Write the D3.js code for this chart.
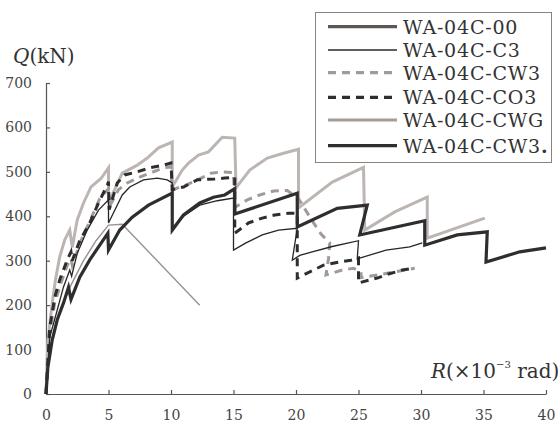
<!DOCTYPE html>
<html><head><meta charset="utf-8">
<script src="https://cdn.jsdelivr.net/npm/d3@7"></script>
<style>
html,body{margin:0;padding:0;background:#fff;}
svg{display:block;}
text{font-family:"DejaVu Serif","Liberation Serif",serif;}
</style></head>
<body>
<svg id="c" width="558" height="425"></svg>
<script>
// ---- data: [R (x10^-3 rad), Q (kN)] ----
const xTicks = [0,5,10,15,20,25,30,35,40];
const yTicks = [0,100,200,300,400,500,600,700];
const seriesNames = ["WA-04C-00","WA-04C-C3","WA-04C-CW3","WA-04C-CO3","WA-04C-CWG","WA-04C-CW3"];

const s00 = [[0,0],[0.3,100],[1,180],[2,245],[3,300],[4,345],[5,380],[6.1,382],[12.3,200]];

const sC3 = [[0,0],[0.3,128],[0.9,189],[1.4,241],[1.9,279],[2.05,265],[2.5,317],[3.3,369],[4.2,414],[5.0,437],[5.0,385],
  [6.1,448],[6.7,466],[7.8,482],[8.9,486],[9.7,482],[10.1,475],[10.1,372],[11.0,400],[12.3,425],[13.7,435],[15.0,441],
  [15.0,324],[16.0,340],[17.3,358],[18.6,369],[20.1,373],[19.7,301],[20.3,312],[21.3,320],[22.9,332],[25.0,345],
  [24.9,304],[27.2,324],[29.1,331],[30.1,340]];

const sCW3 = [[0,0],[0.3,140],[0.7,205],[1.2,250],[1.7,290],[2.0,305],[2.1,290],[2.8,345],[3.6,395],[4.3,440],[5.0,462],
  [5.05,420],[5.8,460],[6.5,475],[7.5,488],[8.3,497],[9.3,508],[10.0,512],[10.1,460],[11.0,468],[12.0,480],[13.2,497],
  [14.1,500],[15.0,498],[15.1,420],[16.1,437],[17.1,448],[18.2,457],[19.3,458],[20.2,440],[21.2,394],[22.0,360],
  [22.7,340],[22.6,305],[22.4,268],[23.7,279],[24.6,283],[25.2,275],[25.2,262],[27.0,270],[28.5,278],[29.5,283]];

const sCO3 = [[0,0],[0.3,150],[0.7,218],[1.1,257],[1.7,302],[2.0,320],[2.1,300],[2.7,345],[3.5,385],[4.2,430],[4.9,470],
  [5.0,478],[5.05,415],[5.7,475],[6.3,493],[7.3,500],[8.3,509],[9.4,515],[10.0,520],[10.1,460],[11.0,466],[12.1,482],
  [13.5,484],[14.3,486],[15.1,488],[15.1,362],[16.2,385],[17.3,396],[18.3,403],[19.4,407],[20.1,407],[20.1,261],
  [21.4,279],[22.2,290],[23.6,298],[24.4,301],[25.0,306],[25.0,250],[26.5,261],[27.4,270],[28.5,279],[29.4,283]];

const sCWG = [[0,0],[0.15,120],[0.5,205],[0.75,256],[1.1,309],[1.5,347],[1.9,369],[2.1,330],[2.5,392],[3.0,430],
  [3.6,466],[4.4,485],[5.0,509],[5.0,430],[6.1,497],[7.3,515],[8.1,531],[9.0,554],[10.1,567],[10.1,466],[10.9,504],
  [11.4,520],[12.2,538],[13.0,545],[14.1,578],[15.1,576],[15.2,464],[16.3,504],[17.7,531],[19.0,542],[20.2,551],
  [20.2,419],[22.9,477],[25.4,510],[25.5,369],[27.9,410],[30.5,443],[30.5,351],[35.1,396]];

const sCW3b = [[0,0],[0.15,60],[0.5,122],[0.9,167],[1.4,205],[1.8,240],[2.0,213],[2.7,263],[3.5,302],[4.3,335],
  [4.95,362],[5.0,324],[5.9,369],[6.9,398],[8.2,425],[10.1,452],[10.1,369],[11.0,403],[12.3,430],[13.4,443],[14.3,448],
  [15.1,462],[15.1,405],[20.1,452],[20.1,376],[23.3,418],[25.7,425],[25.1,358],[30.3,390],[30.3,335],[32.9,358],
  [35.3,365],[35.2,297],[37.9,320],[40,329]];

// ---- layout ----
const svg = d3.select("#c");
const x = d3.scaleLinear().domain([0,40]).range([46,546]);
const y = d3.scaleLinear().domain([0,700]).range([394,83]);

const axisColor = "#555";
const gx = svg.append("g").attr("transform","translate(0,394)")
  .call(d3.axisBottom(x).tickValues(xTicks).tickSizeInner(-4).tickSizeOuter(0).tickPadding(16));
const gy = svg.append("g").attr("transform","translate(46,0)")
  .call(d3.axisLeft(y).tickValues(yTicks).tickSizeInner(-4).tickSizeOuter(0).tickPadding(14));
[gx,gy].forEach(g=>{
  g.select(".domain").attr("stroke",axisColor).attr("stroke-width",1.2);
  g.selectAll(".tick line").attr("stroke",axisColor).attr("stroke-width",1.2);
  g.selectAll(".tick text").attr("fill","#444").attr("font-size",14)
    .attr("font-family","DejaVu Serif, serif");
});

const line = d3.line().x(d=>x(d[0])).y(d=>y(d[1]));
const styles = [
  {data:s00,  color:"#9c918c", w:1.4, dash:null},
  {data:sCWG, color:"#bdb5b2", w:3,   dash:null},
  {data:sCW3, color:"#a39a97", w:3,   dash:"8,6"},
  {data:sCO3, color:"#2e2e2e", w:3,   dash:"8,6"},
  {data:sC3,  color:"#262626", w:1.3, dash:null},
  {data:sCW3b,color:"#2e2e2e", w:3.2, dash:null}
];
styles.forEach(s=>{
  svg.append("path").datum(s.data).attr("d",line).attr("fill","none")
    .attr("stroke",s.color).attr("stroke-width",s.w).attr("stroke-linejoin","miter")
    .attr("stroke-dasharray",s.dash);
});

// axis titles
const qt = svg.append("text").attr("x",13).attr("y",63).attr("font-size",20).attr("fill","#333");
qt.append("tspan").attr("font-style","italic").text("Q");
qt.append("tspan").text("(kN)");
const rt = svg.append("text").attr("x",431).attr("y",378).attr("font-size",20).attr("fill","#333");
rt.append("tspan").attr("font-style","italic").text("R");
rt.append("tspan").text("(×10");
rt.append("tspan").attr("font-size",10).attr("dy",-10).text("−3");
rt.append("tspan").attr("dy",10).text(" rad)");

// legend
const legend = [
  {name:seriesNames[0], color:"#5e5652", w:3.2, dash:null},
  {name:seriesNames[1], color:"#2a2a2a", w:1.3, dash:null},
  {name:seriesNames[2], color:"#a39a97", w:3.2, dash:"8,6"},
  {name:seriesNames[3], color:"#2e2e2e", w:3.2, dash:"8,6"},
  {name:seriesNames[4], color:"#a59c98", w:3.2, dash:null},
  {name:seriesNames[5], color:"#2e2e2e", w:3.2, dash:null}
];
const ly = [26.7,50,72.7,97.3,120,145.7];
svg.append("rect").attr("x",315.5).attr("y",12.5).attr("width",236).attr("height",150)
  .attr("fill","#fff").attr("stroke","#8d817c").attr("stroke-width",1);
legend.forEach((l,i)=>{
  svg.append("line").attr("x1",328).attr("x2",397).attr("y1",ly[i]).attr("y2",ly[i])
    .attr("stroke",l.color).attr("stroke-width",l.w).attr("stroke-dasharray",l.dash);
  const t = svg.append("text").attr("x",403).attr("y",ly[i]+7).attr("font-size",19)
    .attr("fill","#333").attr("letter-spacing",0.8).text(l.name);
  if(i===5) t.append("tspan").attr("font-weight","bold").text(".");
});
</script>
</body></html>
